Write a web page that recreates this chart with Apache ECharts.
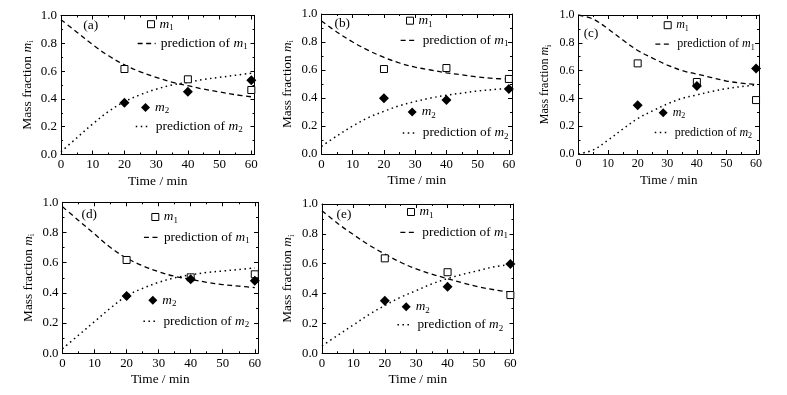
<!DOCTYPE html>
<html><head><meta charset="utf-8">
<script src="https://cdn.jsdelivr.net/npm/echarts@6/dist/echarts.min.js"></script>
<style>html,body{margin:0;padding:0;background:#fff}#c{width:787px;height:395px}</style>
</head><body><div id="c"></div>
<script>
// ---------- data ----------
const panelNames = ['(a)', '(b)', '(c)', '(d)', '(e)'];
const expTime = [20, 40, 60];
const predTime = [0, 5, 10, 15, 20, 25, 30, 35, 40, 45, 50, 55, 60];
const xTickLabels = [0, 10, 20, 30, 40, 50, 60];
const yTickLabels = ['0.0', '0.2', '0.4', '0.6', '0.8', '1.0'];

const m1A = [0.615, 0.541, 0.464];
const m2A = [0.372, 0.452, 0.534];
const predM1A = [0.97, 0.88, 0.79, 0.71, 0.645, 0.595, 0.555, 0.52, 0.495, 0.47, 0.45, 0.43, 0.415];
const predM2A = [0.02, 0.12, 0.22, 0.31, 0.38, 0.43, 0.47, 0.50, 0.52, 0.54, 0.555, 0.57, 0.585];

const m1B = [0.607, 0.614, 0.536];
const m2B = [0.398, 0.386, 0.464];
const predM1B = [0.95, 0.87, 0.80, 0.74, 0.69, 0.65, 0.62, 0.60, 0.58, 0.565, 0.55, 0.54, 0.535];
const predM2B = [0.055, 0.13, 0.20, 0.26, 0.305, 0.345, 0.375, 0.40, 0.42, 0.435, 0.45, 0.46, 0.47];

const m1C = [0.652, 0.518, 0.388];
const m2C = [0.35, 0.49, 0.616];
const predM1C = [1.0, 0.97, 0.90, 0.82, 0.745, 0.69, 0.64, 0.60, 0.575, 0.55, 0.525, 0.51, 0.50];
const predM2C = [0.0, 0.03, 0.10, 0.18, 0.255, 0.31, 0.36, 0.40, 0.425, 0.45, 0.47, 0.485, 0.495];

const m1D = [0.618, 0.503, 0.523];
const m2D = [0.379, 0.49, 0.481];
const predM1D = [0.97, 0.88, 0.79, 0.70, 0.63, 0.58, 0.54, 0.51, 0.49, 0.47, 0.455, 0.445, 0.435];
const predM2D = [0.03, 0.12, 0.21, 0.30, 0.38, 0.43, 0.47, 0.50, 0.52, 0.535, 0.545, 0.555, 0.565];

const m1E = [0.636, 0.543, 0.39];
const m2E = [0.352, 0.446, 0.598];
const predM1E = [0.955, 0.87, 0.795, 0.725, 0.665, 0.61, 0.565, 0.53, 0.50, 0.47, 0.445, 0.425, 0.41];
const predM2E = [0.05, 0.12, 0.19, 0.26, 0.32, 0.375, 0.42, 0.465, 0.50, 0.53, 0.555, 0.58, 0.595];

const xAxisTitle = 'Time / min';
const yAxisTitle = 'Mass fraction {i|m}{s|i}';
const legendTexts = ['{i|m}{s|1}', 'prediction of {i|m}{s|1}', '{i|m}{s|2}', 'prediction of {i|m}{s|2}'];

// ---------- layout (positions / sizes only) ----------
const panels = [
  {m1: m1A, m2: m2A, p1: predM1A, p2: predM2A, fs: 13.5,
   grid: {left: 61, top: 15.5, width: 193.5, height: 139}, label: [90.7, 25],
   leg: [[147, 25.7, 7], [137, 45, 18], [141, 109, 9], [135, 128, 15]]},
  {m1: m1B, m2: m2B, p1: predM1B, p2: predM2B, fs: 13.3,
   grid: {left: 321.5, top: 14, width: 190.5, height: 140}, label: [342.3, 24],
   leg: [[406, 22.7, 7], [400, 42.3, 17], [407.7, 114, 9], [402, 135, 15]]},
  {m1: m1C, m2: m2C, p1: predM1C, p2: predM2C, fs: 12,
   grid: {left: 578.5, top: 15, width: 180.5, height: 139}, label: [591, 34],
   leg: [[663.7, 27.7, 7], [654.7, 46.7, 17], [658.7, 115.3, 9], [654, 135, 15]]},
  {m1: m1D, m2: m2D, p1: predM1D, p2: predM2D, fs: 13.3,
   grid: {left: 62.5, top: 202.3, width: 195.5, height: 151}, label: [89.3, 215],
   leg: [[151.3, 219, 7], [143.3, 239.3, 15], [148.3, 302.3, 9], [142.7, 323.3, 15]]},
  {m1: m1E, m2: m2E, p1: predM1E, p2: predM2E, fs: 13.3,
   grid: {left: 322, top: 204, width: 191.5, height: 149.3}, label: [344, 215],
   leg: [[407, 214, 7], [399.7, 234.3, 17], [401.7, 308.7, 9], [396.7, 326.7, 15]]}
];

const FONT = '"Liberation Serif", "DejaVu Serif", serif';
function makeRich(fs) {
  return {
    i: {fontFamily: FONT, fontStyle: 'italic', fontSize: fs, color: '#000'},
    s: {fontFamily: FONT, fontSize: Math.round(fs * 0.68), color: '#000', padding: [7, 0, 0, 0]}
  };
}

const grids = [], xAxes = [], yAxes = [], series = [], legends = [], graphics = [];
const tickStyle = {color: '#000', width: 1};

panels.forEach((p, gi) => {
  const fs = p.fs, tfs = Math.max(12, fs - 0.5);
  grids.push(Object.assign({containLabel: false}, p.grid));
  ['bottom', 'top'].forEach((pos, k) => {
    xAxes.push({
      type: 'value', gridIndex: gi, position: pos, min: 0, max: 61, interval: 10,
      axisLine: {show: true, onZero: false, lineStyle: tickStyle},
      axisTick: {show: true, inside: true, length: 4, lineStyle: tickStyle},
      minorTick: {show: true, splitNumber: 2, length: 2, lineStyle: tickStyle},
      splitLine: {show: false},
      axisLabel: {show: k === 0, margin: 4, color: '#000', fontFamily: FONT, fontSize: tfs,
        formatter: v => (xTickLabels.indexOf(v) >= 0 ? String(v) : '')},
      name: k === 0 ? xAxisTitle : '', nameLocation: 'middle', nameGap: 20,
      nameTextStyle: {color: '#000', fontFamily: FONT, fontSize: Math.max(13, fs)}
    });
  });
  ['left', 'right'].forEach((pos, k) => {
    yAxes.push({
      type: 'value', gridIndex: gi, position: pos, min: 0, max: 1, interval: 0.2,
      axisLine: {show: true, onZero: false, lineStyle: tickStyle},
      axisTick: {show: true, inside: true, length: 4, lineStyle: tickStyle},
      minorTick: {show: true, splitNumber: 2, length: 2, lineStyle: tickStyle},
      splitLine: {show: false},
      axisLabel: {show: k === 0, margin: 4, color: '#000', fontFamily: FONT, fontSize: tfs,
        formatter: v => yTickLabels[Math.round(v / 0.2)] || ''},
      name: k === 0 ? yAxisTitle : '', nameLocation: 'middle', nameGap: 26, nameRotate: 90,
      nameTextStyle: {color: '#000', fontFamily: FONT, fontSize: fs, rich: makeRich(fs)}
    });
  });
  const xi = gi * 2, yi = gi * 2;
  const names = ['m1', 'pm1', 'm2', 'pm2'].map(n => 'p' + gi + '_' + n);
  series.push({
    name: names[1], type: 'line', xAxisIndex: xi, yAxisIndex: yi, symbol: 'none', smooth: 0.35,
    lineStyle: {color: '#000', width: 1.3, type: [5, 3.5]}, itemStyle: {color: '#000'},
    data: predTime.map((t, i) => [t, p.p1[i]]), z: 2
  });
  series.push({
    name: names[3], type: 'line', xAxisIndex: xi, yAxisIndex: yi, symbol: 'none', smooth: 0.35,
    lineStyle: {color: '#000', width: 1.5, type: [1.5, 3.5]}, itemStyle: {color: '#000'},
    data: predTime.map((t, i) => [t, p.p2[i]]), z: 2
  });
  series.push({
    name: names[0], type: 'scatter', xAxisIndex: xi, yAxisIndex: yi, symbol: 'rect', symbolSize: 7,
    itemStyle: {color: '#fff', borderColor: '#000', borderWidth: 1, opacity: 1},
    data: expTime.map((t, i) => [t, p.m1[i]]), z: 3
  });
  series.push({
    name: names[2], type: 'scatter', xAxisIndex: xi, yAxisIndex: yi, symbol: 'diamond', symbolSize: 10,
    itemStyle: {color: '#000', borderWidth: 0, opacity: 1},
    data: expTime.map((t, i) => [t, p.m2[i]]), z: 3
  });
  [0, 1, 2, 3].forEach(k => {
    const L = p.leg[k];
    const isSym = (k === 0 || k === 2);
    const lg = {
      left: L[0], top: L[1] - 8.5, padding: 0, itemGap: 0,
      itemWidth: L[2], itemHeight: isSym ? L[2] : 10,
      data: [names[k]], selectedMode: false, formatter: legendTexts[k],
      textStyle: {color: '#000', fontFamily: FONT, fontSize: fs, rich: makeRich(fs)}
    };
    if (isSym) {
      lg.itemStyle = {borderWidth: k === 0 ? 1 : 0};
    } else {
      lg.itemStyle = {opacity: 0, borderWidth: 0};
      lg.lineStyle = {opacity: 1, color: '#000', width: k === 1 ? 1.3 : 1.5, type: k === 1 ? [5, 3.5] : [1.5, 3.5]};
    }
    legends.push(lg);
  });
  graphics.push({
    type: 'text', x: p.label[0], y: p.label[1],
    style: {text: panelNames[gi], fill: '#000', font: Math.max(13, fs) + 'px ' + FONT, textAlign: 'center', textVerticalAlign: 'middle'}
  });
});

const chart = echarts.init(document.getElementById('c'), null, {renderer: 'canvas'});
chart.setOption({
  backgroundColor: '#fff',
  animation: false,
  grid: grids, xAxis: xAxes, yAxis: yAxes, series: series, legend: legends, graphic: graphics
});
</script></body></html>
